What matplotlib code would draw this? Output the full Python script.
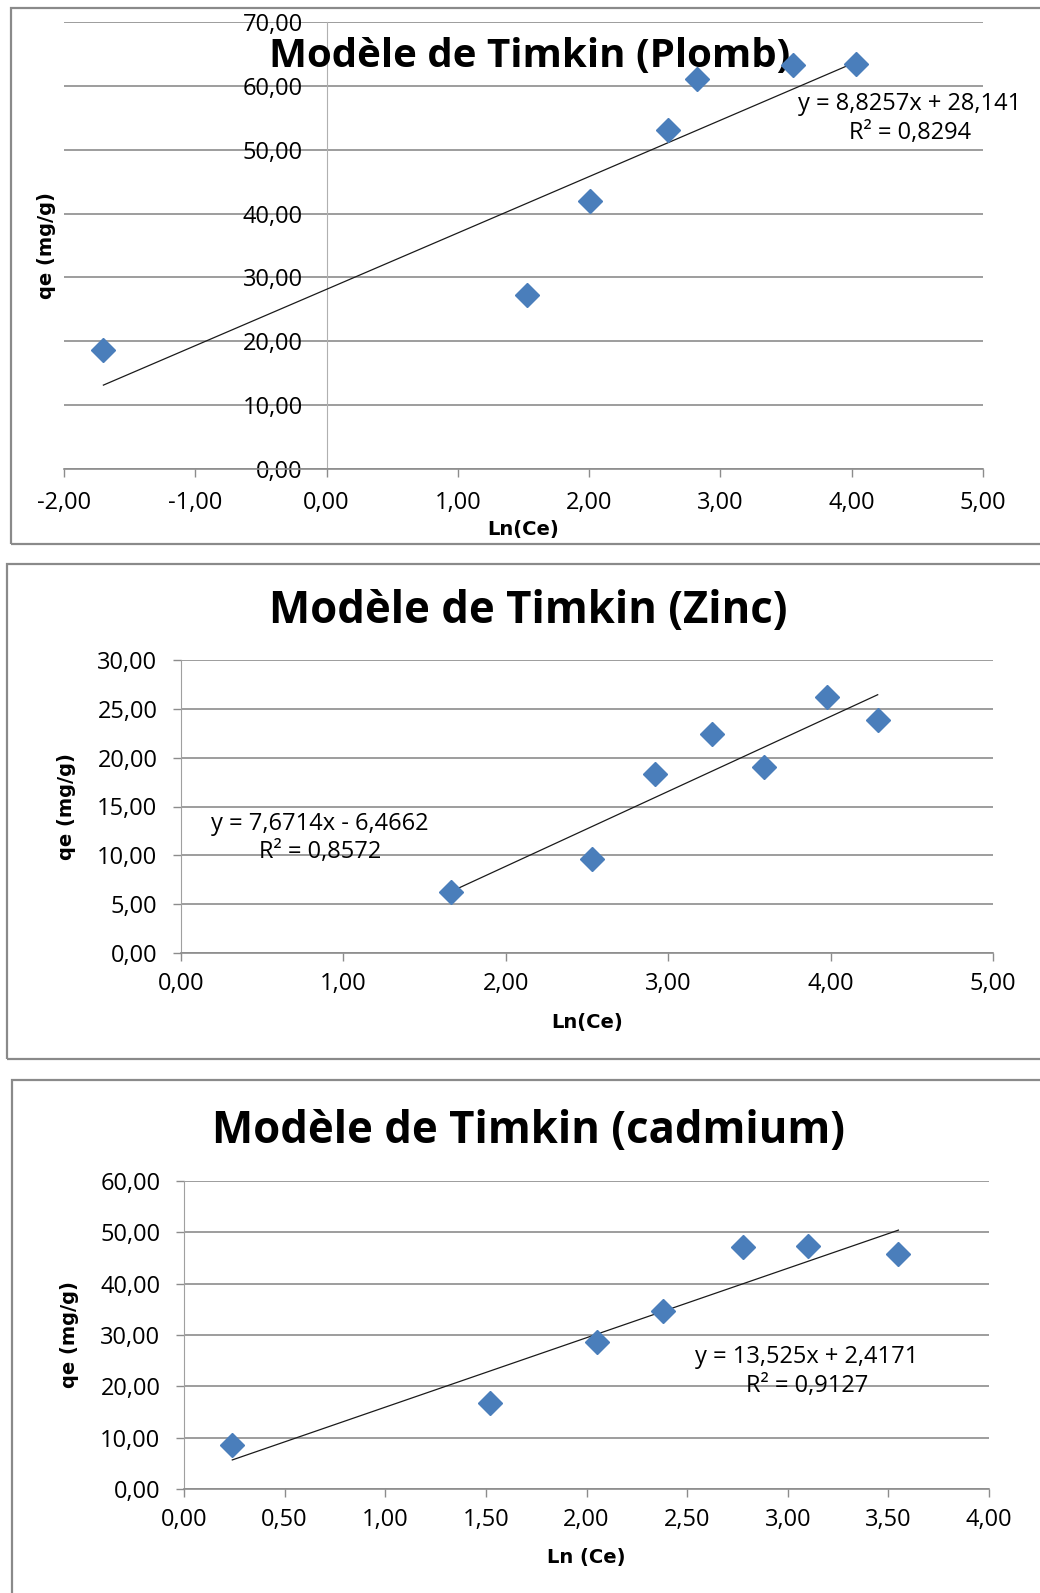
import numpy as np
import matplotlib.pyplot as plt
from matplotlib.patches import Rectangle

# Data
plomb_x = [-1.70, 1.53, 2.01, 2.60, 2.82, 3.55, 4.03]
plomb_y = [18.7, 27.2, 41.9, 53.1, 61.1, 63.3, 63.5]
plomb_fit = (8.8257, 28.141)

zinc_x = [1.66, 2.53, 2.92, 3.27, 3.59, 3.98, 4.29]
zinc_y = [6.2, 9.6, 18.3, 22.4, 19.0, 26.2, 23.9]
zinc_fit = (7.6714, -6.4662)

cad_x = [0.24, 1.52, 2.05, 2.38, 2.78, 3.10, 3.55]
cad_y = [8.5, 16.8, 28.6, 34.7, 47.2, 47.3, 45.8]
cad_fit = (13.525, 2.4171)

W, H = 1040, 1593
fig = plt.figure(figsize=(W / 100, H / 100), dpi=100)
fig.patch.set_facecolor('white')

TICK_FONT = 'Open Sans'
TICK_SIZE = 17
BLUE = '#4a7ebb'
GRID = '#8c8c8c'


def px_axes(x0, y0, x1, y1):
    # pixel box (top-left origin) -> figure fraction
    return fig.add_axes([x0 / W, 1 - y1 / H, (x1 - x0) / W, (y1 - y0) / H])


def frame(x0, y0, x1, y1):
    r = Rectangle((x0 / W, 1 - y1 / H), (x1 - x0) / W, (y1 - y0) / H,
                  transform=fig.transFigure, fill=False, edgecolor='#8a8a8a',
                  linewidth=1.6, clip_on=False)
    fig.patches.append(r)


def fmt(v):
    return f"{v:.2f}".replace('.', ',')


def draw_panel(ax, xs, ys, fit, xlim, xstep, ylim, ystep, xlabel, yspine_zero=False):
    if yspine_zero:
        ax.spines['left'].set_position(('data', 0))
    ax.set_xlim(*xlim)
    ax.set_ylim(*ylim)
    xt = np.arange(xlim[0], xlim[1] + xstep / 2, xstep)
    yt = np.arange(ylim[0], ylim[1] + ystep / 2, ystep)
    ax.set_xticks(xt)
    ax.set_yticks(yt)
    ax.set_xticklabels([fmt(v) for v in xt], family=TICK_FONT, fontsize=TICK_SIZE)
    ax.set_yticklabels([fmt(v) for v in yt], family=TICK_FONT, fontsize=TICK_SIZE)
    ax.grid(axis='y', color=GRID, linewidth=1.2)
    ax.set_axisbelow(True)
    for s in ['top', 'right']:
        ax.spines[s].set_visible(False)
    ax.spines['bottom'].set_color(GRID)
    ax.spines['left'].set_color('#a0a0a0')
    ax.spines['bottom'].set_linewidth(1.2)
    ax.tick_params(axis='both', colors=GRID, length=6, width=1.0, labelcolor='black')
    ax.tick_params(axis='x', pad=8)
    ax.tick_params(axis='y', pad=11)

    a, b = fit
    lx = np.array([min(xs), max(xs)])
    ax.plot(lx, a * lx + b, color='#1a1a1a', linewidth=0.9, zorder=3)
    ax.plot(xs, ys, linestyle='none', marker='D', markersize=12,
            color=BLUE, markeredgecolor=BLUE, zorder=4)
    ax.set_xlabel(xlabel, family='DejaVu Sans', fontweight='bold', fontsize=14)
    ax.set_ylabel('qe (mg/g)', family='DejaVu Sans', fontweight='bold', fontsize=14)


def ax_frac(ax_box, px, py):
    x0, y0, x1, y1 = ax_box
    return (px - x0) / (x1 - x0), (y1 - py) / (y1 - y0)


# ---- Panel 1 : Plomb ----
box1 = (64, 22, 983, 469)
frame(11, 8, 1046, 544)
ax1 = px_axes(*box1)
draw_panel(ax1, plomb_x, plomb_y, plomb_fit, (-2, 5), 1, (0, 70), 10, 'Ln(Ce)',
           yspine_zero=True)
ax1.spines['left'].set_color('#b0b0b0')
ax1.tick_params(axis='y', length=0, pad=17)
ax1.tick_params(axis='x', pad=10)
ax1.xaxis.set_label_coords(0.5, -0.115)
ax1.yaxis.set_label_coords(ax_frac(box1, 56, 0)[0], 0.5)
ax1.text(*ax_frac(box1, 530, 57), 'Modèle de Timkin (Plomb)', transform=ax1.transAxes,
         ha='center', va='center', family='Open Sans', fontweight='bold', fontsize=29)
ax1.text(*ax_frac(box1, 910, 104), 'y = 8,8257x + 28,141', transform=ax1.transAxes,
         ha='center', va='center', family=TICK_FONT, fontsize=TICK_SIZE)
ax1.text(*ax_frac(box1, 910, 133), 'R² = 0,8294', transform=ax1.transAxes,
         ha='center', va='center', family=TICK_FONT, fontsize=TICK_SIZE)

# ---- Panel 2 : Zinc ----
box2 = (181, 660, 993, 953)
frame(7, 564, 1046, 1059)
ax2 = px_axes(*box2)
draw_panel(ax2, zinc_x, zinc_y, zinc_fit, (0, 5), 1, (0, 30), 5, 'Ln(Ce)')
ax2.yaxis.set_label_coords(ax_frac(box2, 76, 0)[0], 0.5)
ax2.xaxis.set_label_coords(0.5, -0.205)
fig.text(528 / W, 1 - 612 / H, 'Modèle de Timkin (Zinc)', ha='center', va='center',
         family='Open Sans', fontweight='bold', fontsize=31.5)
ax2.text(*ax_frac(box2, 320, 824), 'y = 7,6714x - 6,4662', transform=ax2.transAxes,
         ha='center', va='center', family=TICK_FONT, fontsize=TICK_SIZE)
ax2.text(*ax_frac(box2, 320, 852), 'R² = 0,8572', transform=ax2.transAxes,
         ha='center', va='center', family=TICK_FONT, fontsize=TICK_SIZE)

# ---- Panel 3 : cadmium ----
box3 = (184, 1181, 989, 1489)
frame(12, 1080, 1046, 1600)
ax3 = px_axes(*box3)
draw_panel(ax3, cad_x, cad_y, cad_fit, (0, 4), 0.5, (0, 60), 10, 'Ln (Ce)')
ax3.yaxis.set_label_coords(ax_frac(box3, 79, 0)[0], 0.5)
ax3.xaxis.set_label_coords(0.5, -0.19)
fig.text(528 / W, 1 - 1132 / H, 'Modèle de Timkin (cadmium)', ha='center', va='center',
         family='Open Sans', fontweight='bold', fontsize=31.5)
ax3.text(*ax_frac(box3, 807, 1357), 'y = 13,525x + 2,4171', transform=ax3.transAxes,
         ha='center', va='center', family=TICK_FONT, fontsize=TICK_SIZE)
ax3.text(*ax_frac(box3, 807, 1386), 'R² = 0,9127', transform=ax3.transAxes,
         ha='center', va='center', family=TICK_FONT, fontsize=TICK_SIZE)

fig.savefig('out.png', dpi=100)
